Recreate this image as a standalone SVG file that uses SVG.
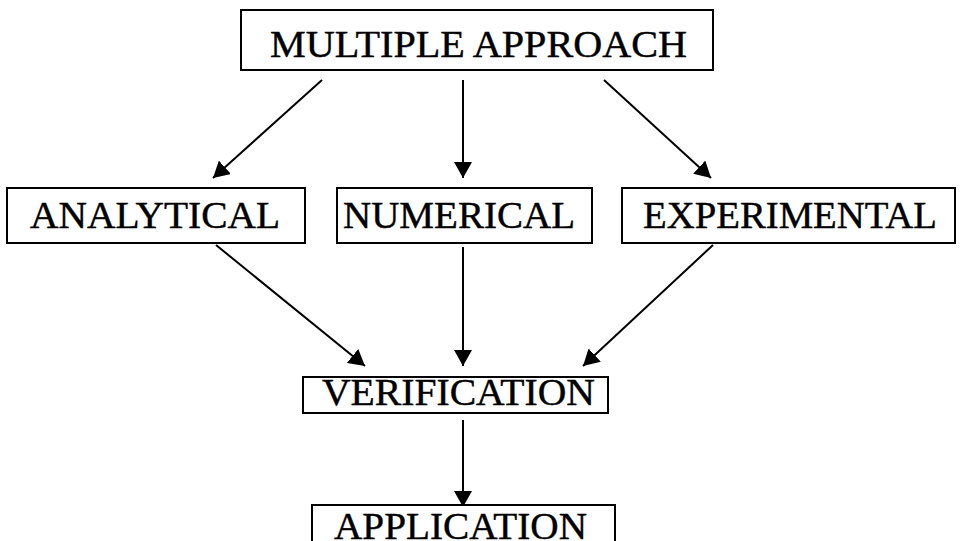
<svg xmlns="http://www.w3.org/2000/svg" width="960" height="541" viewBox="0 0 960 541">
<style>
.box{fill:#fff;stroke:#000;stroke-width:2}
.t{font-family:"Liberation Serif","Times New Roman",serif;font-size:37px;fill:#000;stroke:#000;stroke-width:0.4}
.c{stroke:#000;stroke-width:2;fill:none;marker-end:url(#ah)}
</style>
<defs>
<marker id="ah" viewBox="0 0 16 18" refX="16" refY="9" markerWidth="16" markerHeight="18" markerUnits="userSpaceOnUse" orient="auto">
<path d="M0,0 L16,9 L0,18 Z" fill="#000"/>
</marker>
</defs>
<rect width="960" height="541" fill="#fff"/>
<g id="connectors">
<line class="c" x1="322" y1="80" x2="213" y2="178"/>
<line class="c" x1="463" y1="80" x2="463" y2="178"/>
<line class="c" x1="604" y1="80" x2="711" y2="178"/>
<line class="c" x1="216" y1="245" x2="365" y2="366"/>
<line class="c" x1="463" y1="247" x2="463" y2="366"/>
<line class="c" x1="713" y1="245" x2="583" y2="366"/>
<line class="c" x1="463" y1="420" x2="463" y2="507"/>
</g>
<g id="multiple-approach">
<rect class="box" x="241" y="10" width="472" height="60"/>
<text class="t" x="270" y="57" textLength="417" lengthAdjust="spacingAndGlyphs">MULTIPLE APPROACH</text>
</g>
<g id="analytical">
<rect class="box" x="7" y="188" width="298" height="55"/>
<text class="t" x="30" y="228" textLength="250" lengthAdjust="spacingAndGlyphs">ANALYTICAL</text>
</g>
<g id="numerical">
<rect class="box" x="337" y="188" width="255" height="55"/>
<text class="t" x="343" y="228" textLength="232" lengthAdjust="spacingAndGlyphs">NUMERICAL</text>
</g>
<g id="experimental">
<rect class="box" x="622" y="188" width="333" height="55"/>
<text class="t" x="643" y="228" textLength="294" lengthAdjust="spacingAndGlyphs">EXPERIMENTAL</text>
</g>
<g id="verification">
<rect class="box" x="303" y="377" width="305" height="36"/>
<text class="t" x="322" y="405" textLength="273" lengthAdjust="spacingAndGlyphs">VERIFICATION</text>
</g>
<g id="application">
<rect class="box" x="312" y="505" width="303" height="60"/>
<text class="t" x="334" y="539" textLength="253" lengthAdjust="spacingAndGlyphs">APPLICATION</text>
</g>
</svg>
